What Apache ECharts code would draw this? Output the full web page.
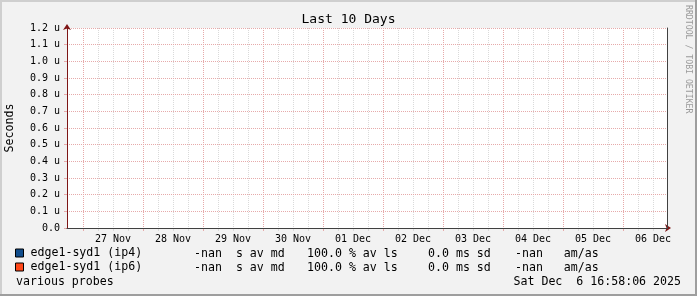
<!DOCTYPE html>
<html>
<head>
<meta charset="utf-8">
<script src="https://cdn.jsdelivr.net/npm/echarts@6/dist/echarts.min.js"></script>
<style>
html,body{margin:0;padding:0;background:#f2f2f2;}
#chart{width:697px;height:296px;}
</style>
</head>
<body>
<div id="chart"></div>
<script>
// ---- data ----
const titleText = 'Last 10 Days';
const yAxisName = 'Seconds';
const xTickLabels = ['27 Nov','28 Nov','29 Nov','30 Nov','01 Dec','02 Dec','03 Dec','04 Dec','05 Dec','06 Dec'];
const yTickLabels = ['0.0','0.1 u','0.2 u','0.3 u','0.4 u','0.5 u','0.6 u','0.7 u','0.8 u','0.9 u','1.0 u','1.1 u','1.2 u'];
const seriesNames = ['edge1-syd1 (ip4)','edge1-syd1 (ip6)'];
const seriesColors = ['#114d8c','#ff4719'];
const ip4Values = [];   // no data (-nan) in the period
const ip6Values = [];
const ip4Stats = ['-nan  s av md','100.0 % av ls','0.0 ms sd','-nan   am/as'];
const ip6Stats = ['-nan  s av md','100.0 % av ls','0.0 ms sd','-nan   am/as'];
const footLeft = 'various probes';
const footRight = 'Sat Dec  6 16:58:06 2025';
const watermark = 'RRDTOOL / TOBI OETIKER';
// time in hours relative to 27 Nov 00:00
const xMinHour = -6.4;
const xMaxHour = 233.6;
const minorStepHours = 6;
const majorStepHours = 24;
const lastMinorHour = 228;
const yMax = 1.2;
const yStep = 0.1;

const lastMajorHour = (xTickLabels.length - 1) * majorStepHours;

const MONO = '"DejaVu Sans Mono", monospace';
const MINOR_C = '#dadada';
const MAJOR_C = '#e6aaaa';
const AXIS_C = '#404040';
const ARROW_C = '#7e1616';

// plot geometry
const PL = 67, PT = 28, PW = 600, PH = 200;
const pxPerHour = PW / (xMaxHour - xMinHour);
const x0 = PL + (0 - xMinHour) * pxPerHour; // midnight 27 Nov

const chart = echarts.init(document.getElementById('chart'), null, {renderer: 'canvas'});

const hiddenX = {
  type: 'value', position: 'bottom',
  axisLine: {show: false, onZero: false}, axisTick: {show: false},
  axisLabel: {show: false}, splitLine: {show: false}
};
const hiddenY = {type: 'value', min: 0, max: 1, show: false, splitLine: {show: false}};

const statsX = [194, 307, 428, 515];
const graphics = [
  {type: 'rect', shape: {x: 0, y: 0, width: 697, height: 2}, style: {fill: '#cfcfcf'}, silent: true},
  {type: 'rect', shape: {x: 0, y: 0, width: 2, height: 296}, style: {fill: '#cfcfcf'}, silent: true},
  {type: 'rect', shape: {x: 0, y: 294, width: 697, height: 2}, style: {fill: '#9e9e9e'}, silent: true},
  {type: 'rect', shape: {x: 695, y: 0, width: 2, height: 296}, style: {fill: '#9e9e9e'}, silent: true},
  {type: 'text', x: 10, y: 128, rotation: Math.PI / 2,
   style: {text: yAxisName, fill: '#000', font: '11.6px ' + MONO, align: 'center', verticalAlign: 'middle'}},
  {type: 'text', x: 688, y: 5, rotation: -Math.PI / 2,
   style: {text: watermark, fill: '#9a9a9a', font: '8.2px ' + MONO, align: 'left', verticalAlign: 'middle'}},
  {type: 'text', x: 16, y: 282,
   style: {text: footLeft, fill: '#000', font: '11.6px ' + MONO, align: 'left', verticalAlign: 'middle'}},
  {type: 'text', x: 681, y: 282,
   style: {text: footRight, fill: '#000', font: '11.6px ' + MONO, align: 'right', verticalAlign: 'middle'}}
];
[ip4Stats, ip6Stats].forEach((row, r) => {
  row.forEach((s, i) => {
    graphics.push({type: 'text', x: statsX[i], y: 254 + r * 14,
      style: {text: s, fill: '#000', font: '11.6px ' + MONO, align: 'left', verticalAlign: 'middle'}});
  });
});

const option = {
  animation: false,
  backgroundColor: '#f2f2f2',
  color: seriesColors,
  title: {
    text: titleText, left: 'center', top: 13, padding: 0,
    textStyle: {fontFamily: MONO, fontSize: 13, fontWeight: 'normal', color: '#000'}
  },
  grid: [
    {left: PL, top: PT, width: PW, height: PH, outerBoundsMode: 'none', z: 0,
     show: true, backgroundColor: '#ffffff', borderWidth: 0},
    {left: x0, top: PT, width: lastMinorHour * pxPerHour, height: PH, outerBoundsMode: 'none', show: false},
    {left: x0, top: PT, width: lastMajorHour * pxPerHour, height: PH, outerBoundsMode: 'none', show: false},
    {left: x0 + 12 * pxPerHour, top: PT, width: lastMajorHour * pxPerHour, height: PH, outerBoundsMode: 'none', show: false}
  ],
  legend: {
    orient: 'vertical', left: 15, top: 247, padding: 0,
    itemWidth: 8, itemHeight: 8, itemGap: 2, icon: 'rect', selectedMode: false,
    itemStyle: {borderColor: '#000', borderWidth: 1},
    textStyle: {fontFamily: MONO, fontSize: 11.6, color: '#000', padding: [0, 0, 0, 2]},
    data: seriesNames
  },
  xAxis: [
    Object.assign({}, hiddenX, {gridIndex: 0, min: xMinHour, max: xMaxHour, z: 2,
      axisLine: {show: true, onZero: false, symbol: ['none', 'arrow'], symbolSize: [6, 6], symbolOffset: [0, 4],
                 lineStyle: {color: ARROW_C, width: 1}}}),
    Object.assign({}, hiddenX, {gridIndex: 0, min: xMinHour, max: xMaxHour, z: 6,
      axisLine: {show: true, onZero: false, lineStyle: {color: AXIS_C, width: 1}}}),
    Object.assign({}, hiddenX, {gridIndex: 1, min: 0, max: lastMinorHour, interval: minorStepHours, z: 3,
      axisTick: {show: true, length: 3, lineStyle: {color: MINOR_C}},
      splitLine: {show: true, lineStyle: {color: MINOR_C, width: 1, type: [1, 1]}}}),
    Object.assign({}, hiddenX, {gridIndex: 2, min: 0, max: lastMajorHour, interval: majorStepHours, z: 4,
      axisTick: {show: true, length: 3, lineStyle: {color: MAJOR_C}},
      splitLine: {show: true, lineStyle: {color: MAJOR_C, width: 1, type: [1, 1]}}}),
    Object.assign({}, hiddenX, {gridIndex: 3, min: 0, max: lastMajorHour, interval: majorStepHours, z: 5,
      axisLabel: {show: true, margin: 6, fontFamily: MONO, fontSize: 10, color: '#000',
                  formatter: v => xTickLabels[Math.round(v / majorStepHours)]}})
  ],
  yAxis: [
    {
      type: 'value', gridIndex: 0, min: 0, max: yMax, interval: yStep, z: 4,
      axisLine: {show: true, onZero: false, symbol: ['none', 'arrow'], symbolSize: [6, 6], symbolOffset: [0, 4],
                 lineStyle: {color: ARROW_C, width: 1}},
      axisTick: {show: true, length: 3, lineStyle: {color: MAJOR_C}},
      splitLine: {show: true, lineStyle: {color: MAJOR_C, width: 1, type: [1, 1]}},
      axisLabel: {show: true, margin: 7, fontFamily: MONO, fontSize: 10, color: '#000',
                  formatter: v => yTickLabels[Math.round(v / yStep)]}
    },
    {
      type: 'value', gridIndex: 0, min: 0, max: yMax, interval: yStep, z: 6,
      axisLine: {show: true, onZero: false, lineStyle: {color: AXIS_C, width: 1}},
      axisTick: {show: false}, axisLabel: {show: false}, splitLine: {show: false}
    },
    Object.assign({gridIndex: 1}, hiddenY),
    Object.assign({gridIndex: 2}, hiddenY),
    Object.assign({gridIndex: 3}, hiddenY)
  ],
  series: [
    {name: seriesNames[0], type: 'bar', xAxisIndex: 0, yAxisIndex: 0, data: ip4Values},
    {name: seriesNames[1], type: 'bar', xAxisIndex: 0, yAxisIndex: 0, data: ip6Values}
  ],
  graphic: graphics
};
chart.setOption(option);
</script>
</body>
</html>
